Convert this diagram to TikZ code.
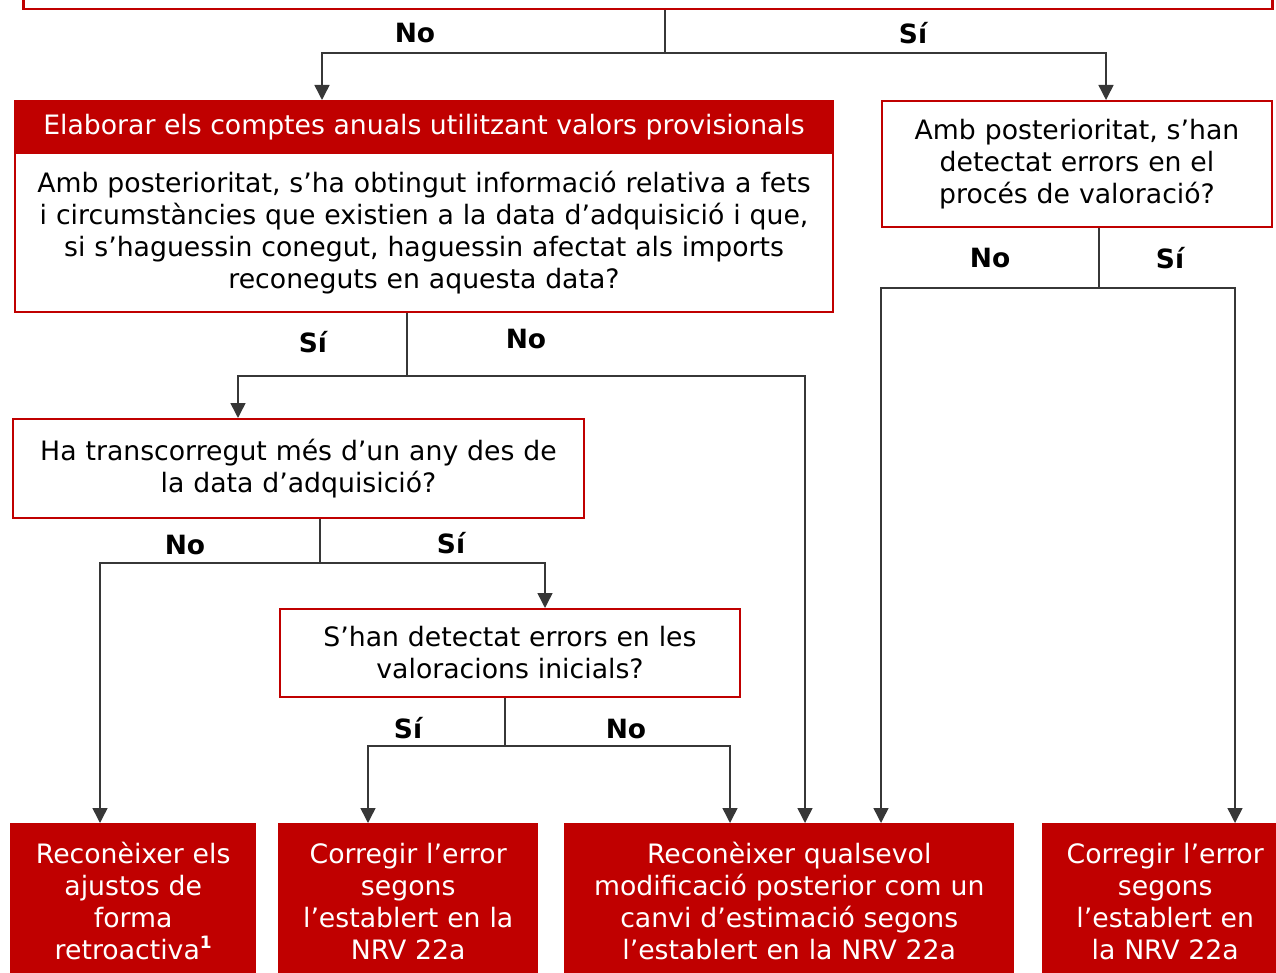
\documentclass[tikz,border=0pt]{standalone}
\usepackage{fontspec}
\setmainfont{DejaVu Sans}
\usetikzlibrary{arrows.meta}
\definecolor{dred}{RGB}{192,0,0}
\definecolor{lgray}{RGB}{55,55,55}
\begin{document}
\begin{tikzpicture}[x=1pt,y=-1pt,
  q/.style={draw=dred, line width=2pt, fill=white, align=center, inner sep=0pt, anchor=north west,
            font=\fontsize{26.7}{32}\selectfont},
  hd/.style={draw=dred, line width=2pt, fill=dred, text=white, align=center, inner sep=0pt, anchor=north west,
            font=\fontsize{26.7}{32}\selectfont},
  res/.style={fill=dred, text=white, align=center, inner sep=0pt, anchor=north west,
            font=\fontsize{26.7}{32}\selectfont},
  lbl/.style={font=\fontsize{26.5}{30}\selectfont\bfseries, inner sep=0pt},
  ln/.style={line width=1.5pt, draw=lgray},
  arr/.style={ln, -{Triangle[length=15pt,width=15pt]}},
]
\useasboundingbox (0,0) rectangle (1276,973);

% boxes
\node[q, line width=2.5pt, minimum width=1249, minimum height=50] (top) at (22,-42) {};
\node[hd, minimum width=818, minimum height=52] (hdr) at (14,100)
  {Elaborar els comptes anuals utilitzant valors provisionals};
\node[q, minimum width=818, minimum height=159, text width=810] (elab) at (14,152)
  {Amb posterioritat, s’ha obtingut informació relativa a fets\\
   i circumstàncies que existien a la data d’adquisició i que,\\
   si s’haguessin conegut, haguessin afectat als imports\\
   reconeguts en aquesta data?};
\node[q, minimum width=390, minimum height=126, text width=380] (rq) at (881,100)
  {Amb posterioritat, s’han\\ detectat errors en el\\ procés de valoració?};
\node[q, minimum width=571, minimum height=99, text width=560] (ha) at (12,418)
  {Ha transcorregut més d’un any des de\\ la data d’adquisició?};
\node[q, minimum width=460, minimum height=88, text width=450] (sh) at (279,608)
  {S’han detectat errors en les\\ valoracions inicials?};

\node[res, minimum width=246, minimum height=156, text width=240] (r1) at (10,823)
  {Reconèixer els\\ ajustos de\\ forma\\ retroactiva\raisebox{0.42em}{\fontsize{17}{17}\selectfont\bfseries 1}};
\node[res, minimum width=260, minimum height=156, text width=254] (r2) at (278,823)
  {Corregir l’error\\ segons\\ l’establert en la\\ NRV 22a};
\node[res, minimum width=450, minimum height=156, text width=440] (r3) at (564,823)
  {Reconèixer qualsevol\\ modificació posterior com un\\ canvi d’estimació segons\\ l’establert en la NRV 22a};
\node[res, minimum width=246, minimum height=156, text width=240] (r4) at (1042,823)
  {Corregir l’error\\ segons\\ l’establert en\\ la NRV 22a};

% junctions and arrow columns
\coordinate (t0) at (665,53);
\coordinate (xa) at (322,0);
\coordinate (xb) at (1106,0);
\coordinate (e0) at (407,376);
\coordinate (xc) at (238,0);
\coordinate (xd) at (805,0);
\coordinate (p0) at (1099,288);
\coordinate (xe) at (881,0);
\coordinate (xf) at (1235,0);
\coordinate (h0) at (320,563);
\coordinate (xg) at (100,0);
\coordinate (xh) at (545,0);
\coordinate (s0) at (505,746);
\coordinate (xi) at (368,0);
\coordinate (xj) at (730,0);

% connectors
\draw[ln] (top.south -| t0) -- (t0);
\draw[arr] (t0) -| (hdr.north -| xa);
\draw[arr] (t0) -| (rq.north -| xb);

\draw[ln] (elab.south -| e0) -- (e0);
\draw[arr] (e0) -| (ha.north -| xc);
\draw[arr] (e0) -| (r3.north -| xd);

\draw[ln] (rq.south -| p0) -- (p0);
\draw[arr] (p0) -| (r3.north -| xe);
\draw[arr] (p0) -| (r4.north -| xf);

\draw[ln] (ha.south -| h0) -- (h0);
\draw[arr] (h0) -| (r1.north -| xg);
\draw[arr] (h0) -| (sh.north -| xh);

\draw[ln] (sh.south -| s0) -- (s0);
\draw[arr] (s0) -| (r2.north -| xi);
\draw[arr] (s0) -| (r3.north -| xj);

% labels
\node[lbl] (l1) at (415,33) {No};
\node[lbl] (l2) at (913,33) {Sí};
\node[lbl] (l3) at (990,258) {No};
\node[lbl] (l4) at (1170,258) {Sí};
\node[lbl] (l5) at (313,342) {Sí};
\node[lbl] (l6) at (526,339) {No};
\node[lbl] (l7) at (185,545) {No};
\node[lbl] (l8) at (451,543) {Sí};
\node[lbl] (l9) at (408,728) {Sí};
\node[lbl] (l10) at (626,729) {No};
\end{tikzpicture}
\end{document}
